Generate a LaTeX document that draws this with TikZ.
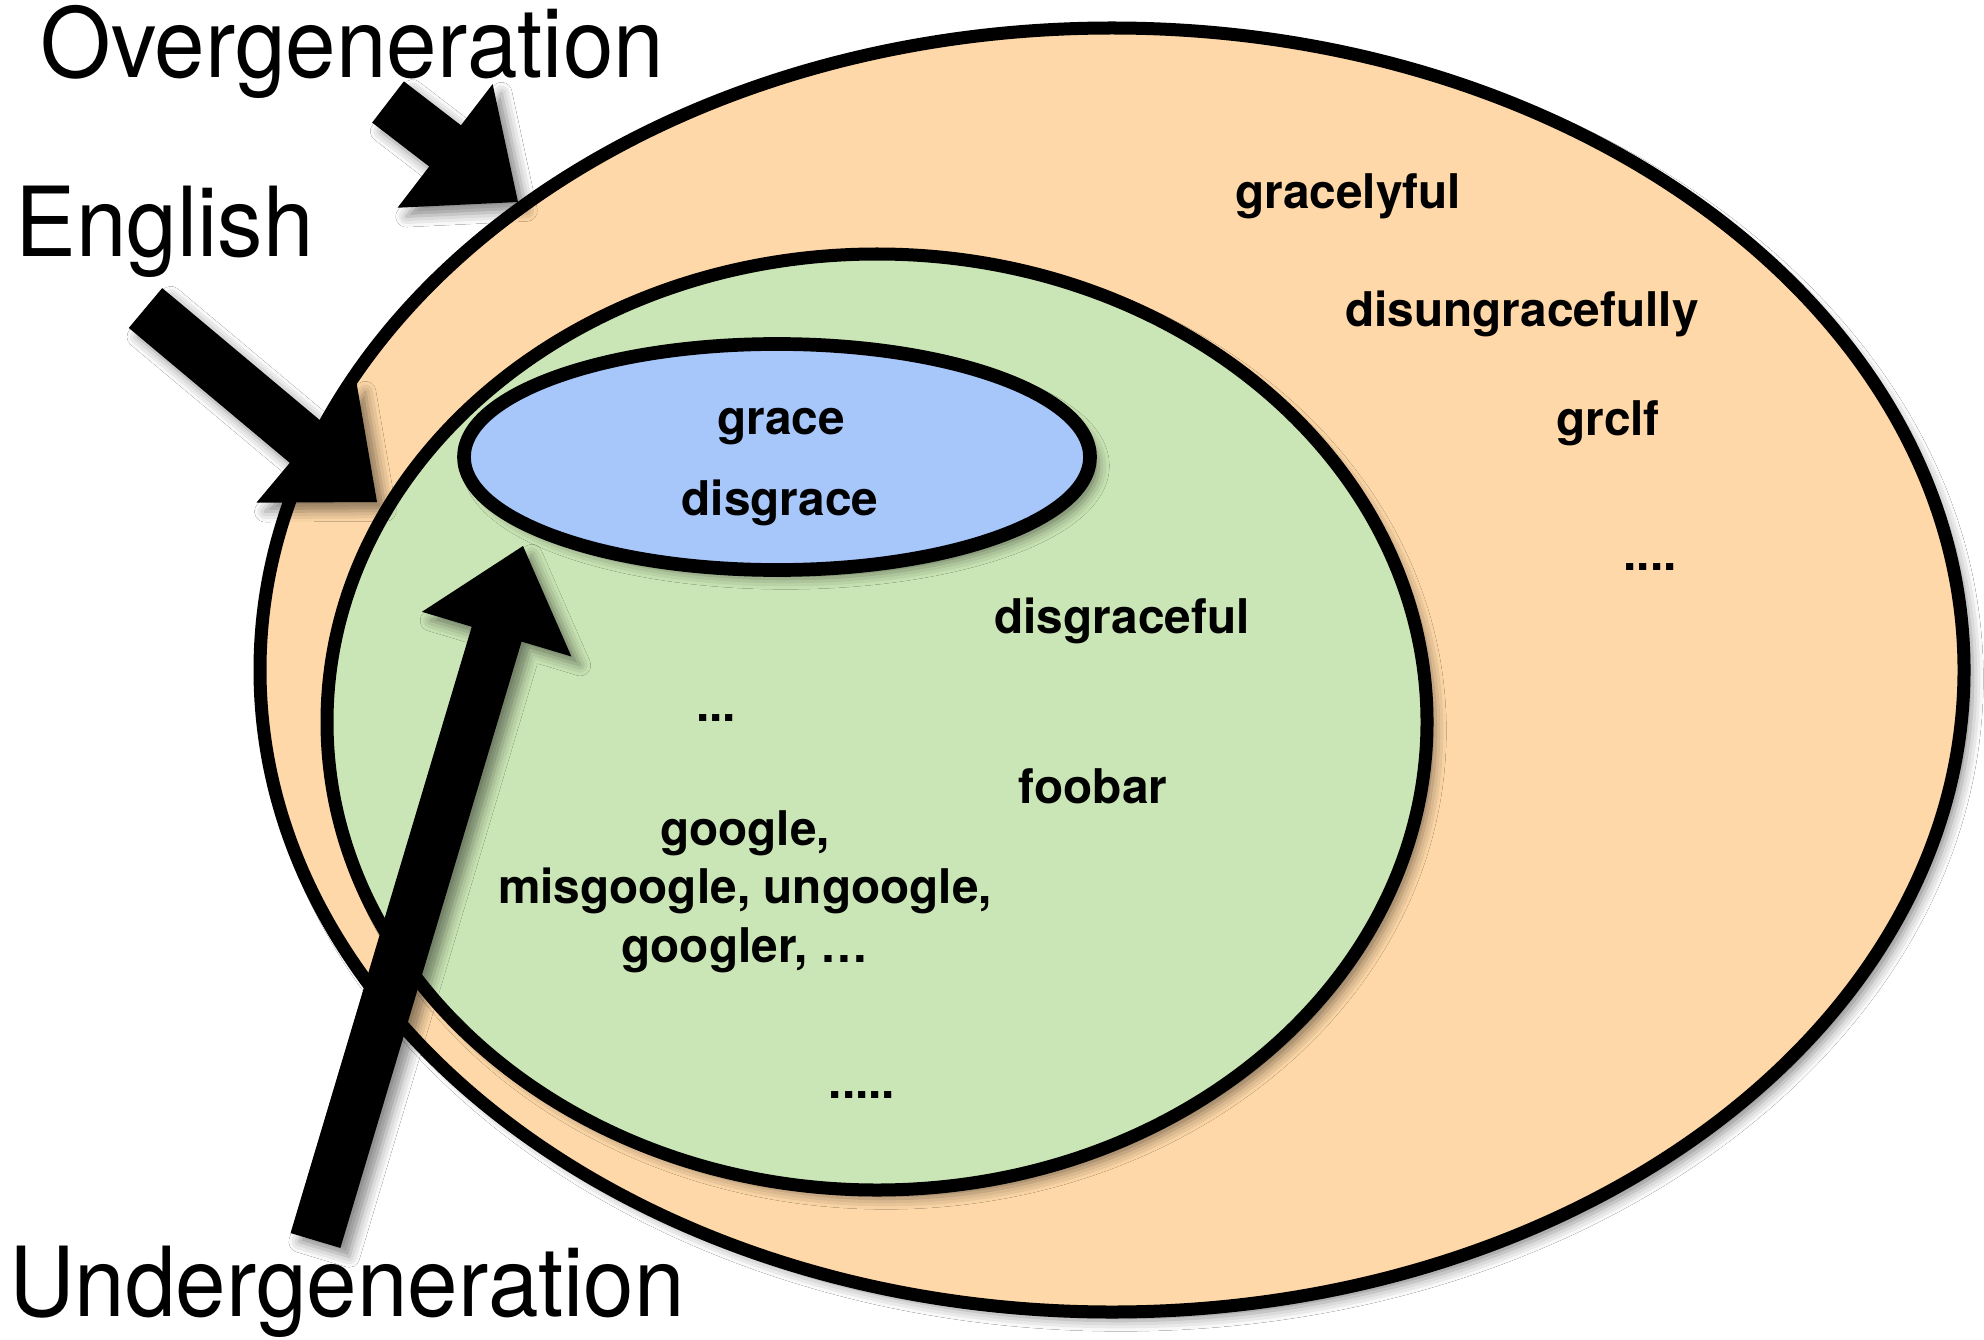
\documentclass[tikz,border=0pt]{standalone}
\usepackage{fontspec}
\setmainfont{TeX Gyre Heros}
\newfontfamily\labelfont[FakeStretch=0.94]{TeX Gyre Heros}
\usetikzlibrary{calc,shadows.blur}

\definecolor{overfill}{HTML}{FED8A8}
\definecolor{langfill}{HTML}{CBE6B6}
\definecolor{corefill}{HTML}{A7C6FA}

\tikzset{
  softshadow/.style={blur shadow={shadow xshift=2.5pt, shadow yshift=-2.5pt,
      shadow blur radius=3pt, shadow opacity=45}},
  setring/.style={draw=black, line width=3.7pt, softshadow},
  biglabel/.style={font=\labelfont\fontsize{27.5}{31}\selectfont, inner sep=0pt, anchor=base west},
  word/.style={font=\bfseries\fontsize{13.6}{16}\selectfont, inner sep=0pt, anchor=base},
}

% block arrow from a tail coordinate to a tip coordinate
\newcommand\blockarrow[2]{%
  \coordinate (#1-b) at ($(#2)!0.92cm!(#1)$);
  \fill[black, softshadow]
    ($(#1)!0.26cm!90:(#2)$) -- ($(#1-b)!0.26cm!90:(#2)$) -- ($(#1-b)!0.78cm!90:(#2)$)
    -- (#2)
    -- ($(#1-b)!0.78cm!-90:(#2)$) -- ($(#1-b)!0.26cm!-90:(#2)$) -- ($(#1)!0.26cm!-90:(#2)$)
    -- cycle;
}

\begin{document}
\begin{tikzpicture}
\useasboundingbox (0,0) rectangle (19.84,-13.40);
\fill[white] (0,0) rectangle (19.84,-13.40);

% nested sets
\path[setring, fill=overfill] (11.12,-6.70) ellipse [x radius=8.52cm, y radius=6.42cm];
\path[setring, fill=langfill] (8.77,-7.22) ellipse [x radius=5.50cm, y radius=4.68cm];
\path[setring, fill=corefill, line width=3.9pt] (7.77,-4.57) ellipse [x radius=3.13cm, y radius=1.13cm];

% labels
\node[biglabel] (over) at (0.40,-0.78) {Overgeneration};
\node[biglabel] (eng) at (0.15,-2.57) {English};
\node[biglabel] (under) at (0.09,-13.16) {Undergeneration};

% arrows
\coordinate (ovtail) at (3.88,-1.02);
\coordinate (ovtip) at (5.18,-2.02);
\coordinate (entail) at (1.455,-3.08);
\coordinate (entip) at (3.77,-5.02);
\coordinate (untail) at (3.155,-12.405);
\coordinate (untip) at (5.23,-5.46);
\blockarrow{ovtail}{ovtip}
\blockarrow{entail}{entip}
\blockarrow{untail}{untip}

% words outside English
\node[word] (w1) at (13.48,-2.09) {gracelyful};
\node[word] (w2) at (15.22,-3.27) {disungracefully};
\node[word] (w3) at (16.08,-4.35) {grclf};
\node[word] (w4) at (16.50,-5.70) {....};

% words in the core
\node[word] (w5) at (7.81,-4.34) {grace};
\node[word] (w6) at (7.80,-5.15) {disgrace};

% other English words
\node[word] (w7) at (11.22,-6.33) {disgraceful};
\node[word] (w8) at (7.16,-7.21) {...};
\node[word] (w9) at (10.93,-8.03) {foobar};
\node[word] (w10) at (7.45,-8.45) {google,};
\node[word] (w11) at (7.45,-9.03) {misgoogle, ungoogle,};
\node[word] (w12) at (7.45,-9.62) {googler, …};
\node[word] (w13) at (8.62,-10.98) {.....};
\end{tikzpicture}
\end{document}
